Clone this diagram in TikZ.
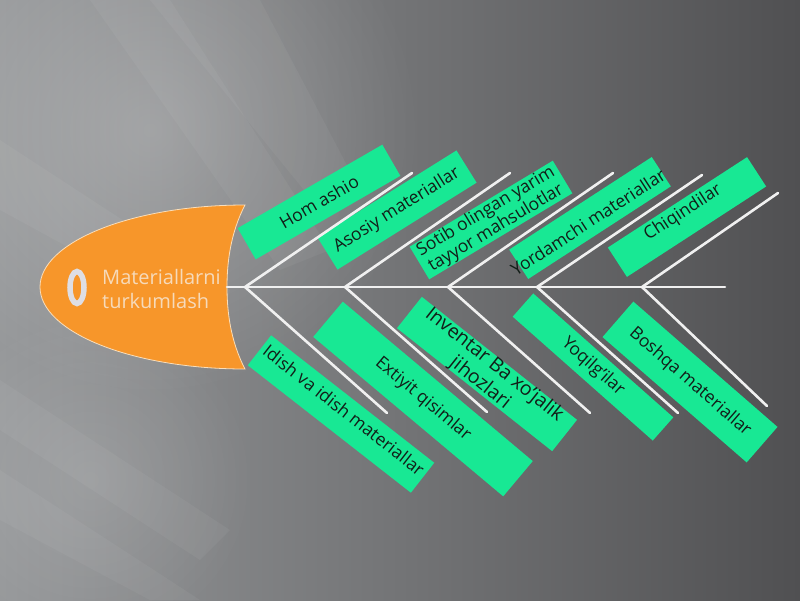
\documentclass[tikz,border=0pt]{standalone}
\usepackage{fontspec}
\setmainfont{Open Sans}
\usetikzlibrary{fadings}
\tikzfading[name=softglow, inner color=transparent!0, outer color=transparent!100]
\definecolor{mint}{RGB}{24,232,148}
\definecolor{fishorange}{RGB}{247,150,42}
\definecolor{bone}{RGB}{240,240,240}
\definecolor{headtxt}{RGB}{246,218,186}
\definecolor{bgL}{RGB}{150,152,154}
\definecolor{bgR}{RGB}{80,80,82}
\definecolor{ringc}{RGB}{222,222,228}
\definecolor{boxtxt}{RGB}{18,30,24}
\definecolor{headedge}{RGB}{250,222,186}
\tikzset{
  gbox/.style={fill=mint, draw=none, inner sep=0pt, anchor=center},
  btxt/.style={text=boxtxt, inner sep=0pt, align=center, anchor=center, font=\fontsize{17.5}{19.5}\selectfont},
  bonel/.style={draw=bone, line width=2.6pt, line cap=round},
  streak/.style={fill=white, opacity=0.045},
}
\begin{document}
\begin{tikzpicture}[x=1pt,y=-1pt]
\useasboundingbox (0,0) rectangle (800,600);
% background
\shade[left color=bgL, right color=bgR] (0,0) rectangle (800,600);
\fill[white, opacity=0.22, path fading=softglow] (150,130) circle (270);
\fill[white, opacity=0.12, path fading=softglow] (90,480) circle (170);
\fill[streak] (90,0) -- (170,0) -- (330,250) -- (280,270) -- cycle;
\fill[streak] (150,0) -- (260,0) -- (360,190) -- (320,210) -- cycle;
\fill[streak] (0,140) -- (0,210) -- (220,330) -- (230,290) -- cycle;
\fill[streak] (0,380) -- (0,430) -- (200,560) -- (230,530) -- cycle;
\fill[streak] (0,470) -- (0,520) -- (150,600) -- (200,600) -- cycle;
% head
\coordinate (s0) at (227,287);
\coordinate (s1) at (725,287);
\fill[fishorange, draw=headedge, line width=0.8pt] (245,205) .. controls (132,205) and (40,242) .. (40,287)
  .. controls (40,332) and (132,369) .. (245,369)
  .. controls (230,340) and (227,310) .. (s0)
  .. controls (227,264) and (230,234) .. (245,205) -- cycle;
\draw[ringc, line width=5.5pt] (77,287.5) ellipse (7 and 16);
\node[text=headtxt, align=left, anchor=west, inner sep=0pt, font=\fontsize{20}{24}\selectfont] (title) at (102,289) {Materiallarni\\turkumlash};
% upper boxes
\node[gbox, rotate=30, minimum width=167pt, minimum height=36pt] (h1) at (319,202) {};
\node[btxt, rotate=30] (h1t) at (h1.center) {Hom ashio};
\node[gbox, rotate=32, minimum width=164pt, minimum height=38pt] (h2) at (397,210) {};
\node[btxt, rotate=32] (h2t) at (h2.center) {Asosiy materiallar};
\node[gbox, rotate=31, minimum width=167pt, minimum height=38pt] (h3) at (491,220) {};
\node[btxt, rotate=31] (h3t) at (h3.center) {Sotib olingan yarim\\tayyor mahsulotlar};
\node[gbox, rotate=33, minimum width=170pt, minimum height=35pt] (h4) at (590,218) {};
\node[btxt, rotate=33] (h4t) at ([shift={(-2,4)}]h4.center) {Yordamchi materiallar};
\node[gbox, rotate=33, minimum width=166pt, minimum height=35pt] (h5) at (687,217) {};
\node[btxt, rotate=33] (h5t) at ([shift={(-4,-4)}]h5.center) {Chiqindilar};
% lower boxes
\node[gbox, rotate=-38, minimum width=207pt, minimum height=38pt] (l1) at (341,414) {};
\node[btxt, rotate=-38] (l1t) at ([shift={(3,-4)}]l1.center) {Idish va idish materiallar};
\node[gbox, rotate=-40, minimum width=248pt, minimum height=46pt] (l2) at (423,399) {};
\node[btxt, rotate=-40] (l2t) at (l2.center) {Extiyit qisimlar};
\node[gbox, rotate=-38.4, minimum width=198pt, minimum height=40pt] (l3) at (487,374) {};
\node[btxt, rotate=-38.4, font=\fontsize{19.5}{23}\selectfont] (l3t) at (l3.center) {Inventar Ba xo'jalik\\jihozlari};
\node[gbox, rotate=-41.5, minimum width=187pt, minimum height=31pt] (l4) at (593,367) {};
\node[btxt, rotate=-41.5] (l4t) at (l4.center) {Yoqilg'ilar};
\node[gbox, rotate=-41, minimum width=191pt, minimum height=47pt] (l5) at (690,382) {};
\node[btxt, rotate=-41] (l5t) at (l5.center) {Boshqa materiallar};
% bones
\coordinate (j1) at (245,287);
\coordinate (j2) at (345,287);
\coordinate (j3) at (448,287);
\coordinate (j4) at (537,287);
\coordinate (j5) at (642,287);
\coordinate (u1) at (412,173);
\coordinate (u2) at (510,173);
\coordinate (u3) at (613,173);
\coordinate (u4) at (702,175);
\coordinate (u5) at (778,193);
\coordinate (d1) at (387,413);
\coordinate (d2) at (487,412);
\coordinate (d3) at (590,413);
\coordinate (d4) at (678,413);
\coordinate (d5) at (767,406);
\draw[bonel] (s0) -- (s1);
\foreach \i in {1,...,5} {
  \draw[bonel] (j\i) -- (u\i);
  \draw[bonel] (j\i) -- (d\i);
}
\end{tikzpicture}
\end{document}
